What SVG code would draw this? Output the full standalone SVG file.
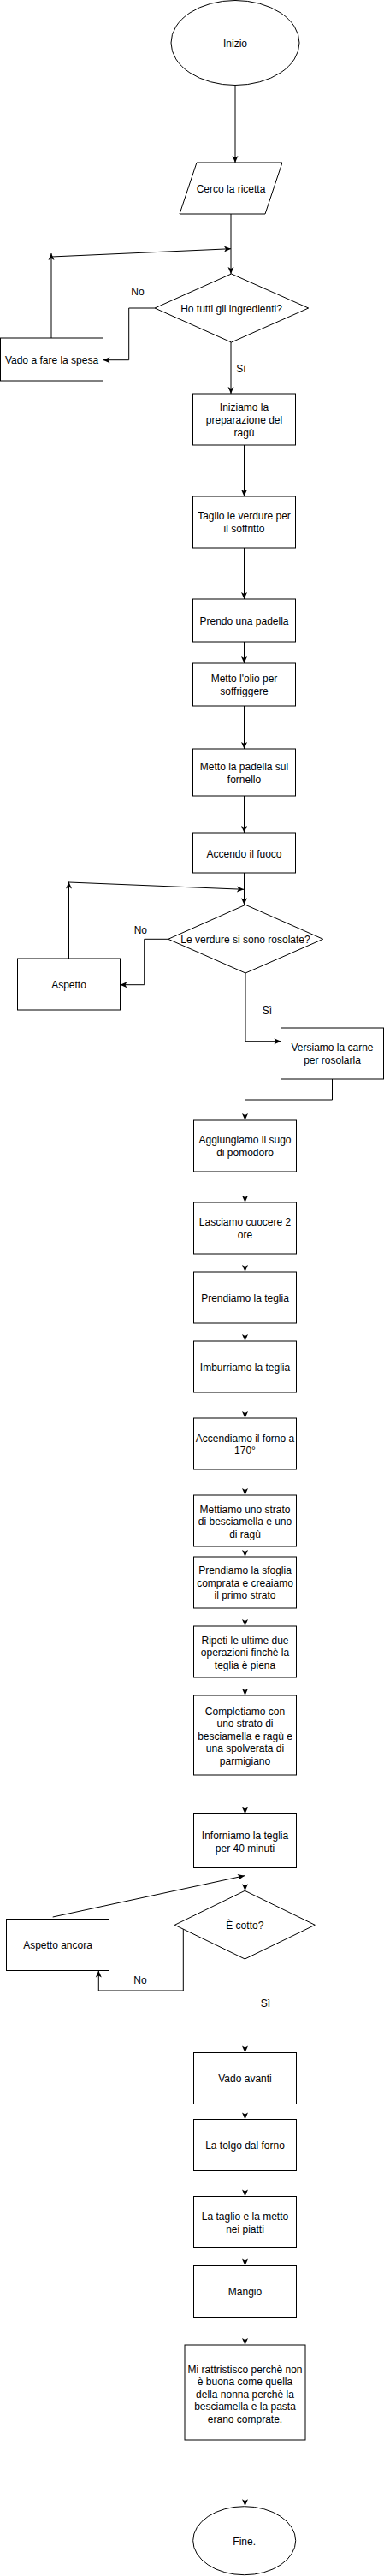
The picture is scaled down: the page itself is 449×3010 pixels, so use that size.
<svg xmlns="http://www.w3.org/2000/svg" width="449" height="3010" viewBox="0 0 449 3010">
<style>
.n{fill:#fff;stroke:#000;stroke-width:1}
.t{font-family:"Liberation Sans",Arial,sans-serif;font-size:12px;fill:#000;text-anchor:middle}
.e{fill:none;stroke:#000;stroke-width:1}
</style>
<defs>
<marker id="arr" markerUnits="userSpaceOnUse" markerWidth="10" markerHeight="10" viewBox="0 0 10 10" refX="9" refY="5" orient="auto"><path d="M1,1.5 L9,5 L1,8.5 L3,5 z" fill="#000"/></marker>
</defs>
<rect width="449" height="3010" fill="#fff"/>
<g id="connectors">
<path class="e" marker-end="url(#arr)" d="M275,100 V190"/>
<path class="e" marker-end="url(#arr)" d="M270,250 V320"/>
<path class="e" marker-end="url(#arr)" d="M60,395 V296"/>
<path class="e" marker-end="url(#arr)" d="M60,300 L270,290.7"/>
<path class="e" marker-end="url(#arr)" d="M181,360 H150.7 V420.7 H120.5"/>
<path class="e" marker-end="url(#arr)" d="M270,400 V460"/>
<path class="e" marker-end="url(#arr)" d="M285.5,520 V580"/>
<path class="e" marker-end="url(#arr)" d="M285.5,640 V700"/>
<path class="e" marker-end="url(#arr)" d="M285.5,750 V775"/>
<path class="e" marker-end="url(#arr)" d="M285.5,825 V875"/>
<path class="e" marker-end="url(#arr)" d="M285.5,930 V973"/>
<path class="e" marker-end="url(#arr)" d="M285.5,1020 V1057.3"/>
<path class="e" marker-end="url(#arr)" d="M80.5,1120 V1030.5"/>
<path class="e" marker-end="url(#arr)" d="M80.5,1031 L285,1039.3"/>
<path class="e" marker-end="url(#arr)" d="M196.7,1097.3 H168.7 V1150.7 H140.5"/>
<path class="e" marker-end="url(#arr)" d="M287,1137 V1216.7 H328.5"/>
<path class="e" marker-end="url(#arr)" d="M388.5,1261 V1285 H286.5 V1309"/>
<path class="e" marker-end="url(#arr)" d="M286.5,1369 V1405"/>
<path class="e" marker-end="url(#arr)" d="M286.5,1465 V1486"/>
<path class="e" marker-end="url(#arr)" d="M286.5,1546 V1567"/>
<path class="e" marker-end="url(#arr)" d="M286.5,1627 V1657"/>
<path class="e" marker-end="url(#arr)" d="M286.5,1717 V1747"/>
<path class="e" marker-end="url(#arr)" d="M286.5,1807 V1819"/>
<path class="e" marker-end="url(#arr)" d="M286.5,1879 V1900"/>
<path class="e" marker-end="url(#arr)" d="M286.5,1960 V1981"/>
<path class="e" marker-end="url(#arr)" d="M286.5,2074 V2119.5"/>
<path class="e" marker-end="url(#arr)" d="M286.5,2182.5 V2209.3"/>
<path class="e" marker-end="url(#arr)" d="M61.7,2240 L286,2191.7"/>
<path class="e" marker-end="url(#arr)" d="M214.3,2253 V2326 H115.3 V2302.5"/>
<path class="e" marker-end="url(#arr)" d="M286.5,2289 V2398.5"/>
<path class="e" marker-end="url(#arr)" d="M286.5,2458.5 V2476.5"/>
<path class="e" marker-end="url(#arr)" d="M286.5,2536.5 V2566.5"/>
<path class="e" marker-end="url(#arr)" d="M286.5,2626.5 V2647.5"/>
<path class="e" marker-end="url(#arr)" d="M286.5,2707.5 V2740"/>
<path class="e" marker-end="url(#arr)" d="M286.5,2851 V2928.3"/>
<text class="t" x="161" y="345">No</text>
<text class="t" x="282" y="434.5">Sì</text>
<text class="t" x="164.3" y="1091">No</text>
<text class="t" x="312.3" y="1184.5">Sì</text>
<text class="t" x="164" y="2317.5">No</text>
<text class="t" x="310.3" y="2344.5">Sì</text>
</g>
<g id="inizio"><ellipse class="n" cx="275" cy="50" rx="75" ry="49.5"/><text class="t" x="275" y="55">Inizio</text></g>
<g id="ricetta"><polygon class="n" points="230,190 330,190 310,250 210,250"/><text class="t" x="270" y="224.5">Cerco la ricetta</text></g>
<g id="ingredienti"><polygon class="n" points="270.5,320 360.7,360 270.5,400 181,360"/><text class="t" x="270.5" y="364.5">Ho tutti gli ingredienti?</text></g>
<g id="spesa"><rect class="n" x="0.5" y="395" width="120" height="50"/><text class="t" x="60.5" y="424.5">Vado a fare la spesa</text></g>
<g id="iniziamo"><rect class="n" x="225.5" y="460" width="120" height="60"/><text class="t" x="285.5" y="480"><tspan x="285.5">Iniziamo la</tspan><tspan x="285.5" dy="15">preparazione del</tspan><tspan x="285.5" dy="15">ragù</tspan></text></g>
<g id="taglio"><rect class="n" x="225.5" y="580" width="120" height="60"/><text class="t" x="285.5" y="607"><tspan x="285.5">Taglio le verdure per</tspan><tspan x="285.5" dy="15">il soffritto</tspan></text></g>
<g id="padella"><rect class="n" x="225.5" y="700" width="120" height="50"/><text class="t" x="285.5" y="729.5">Prendo una padella</text></g>
<g id="olio"><rect class="n" x="225.5" y="775" width="120" height="50"/><text class="t" x="285.5" y="797"><tspan x="285.5">Metto l'olio per</tspan><tspan x="285.5" dy="15">soffriggere</tspan></text></g>
<g id="fornello"><rect class="n" x="225.5" y="875" width="120" height="55"/><text class="t" x="285.5" y="900"><tspan x="285.5">Metto la padella sul</tspan><tspan x="285.5" dy="15">fornello</tspan></text></g>
<g id="fuoco"><rect class="n" x="225.5" y="973" width="120" height="47"/><text class="t" x="285.5" y="1001.5">Accendo il fuoco</text></g>
<g id="rosolate"><polygon class="n" points="287,1057.3 377.7,1097.3 287,1137 196.7,1097.3"/><text class="t" x="287" y="1102">Le verdure si sono rosolate?</text></g>
<g id="aspetto"><rect class="n" x="20.5" y="1120" width="120" height="60"/><text class="t" x="80.5" y="1154.5">Aspetto</text></g>
<g id="carne"><rect class="n" x="328.5" y="1201" width="120" height="60"/><text class="t" x="388.5" y="1227.5"><tspan x="388.5">Versiamo la carne</tspan><tspan x="388.5" dy="15">per rosolarla</tspan></text></g>
<g id="sugo"><rect class="n" x="226.5" y="1309" width="120" height="60"/><text class="t" x="286.5" y="1336"><tspan x="286.5">Aggiungiamo il sugo</tspan><tspan x="286.5" dy="15">di pomodoro</tspan></text></g>
<g id="cuocere"><rect class="n" x="226.5" y="1405" width="120" height="60"/><text class="t" x="286.5" y="1432"><tspan x="286.5">Lasciamo cuocere 2</tspan><tspan x="286.5" dy="15">ore</tspan></text></g>
<g id="teglia"><rect class="n" x="226.5" y="1486" width="120" height="60"/><text class="t" x="286.5" y="1520.5">Prendiamo la teglia</text></g>
<g id="imburriamo"><rect class="n" x="226.5" y="1567" width="120" height="60"/><text class="t" x="286.5" y="1601.5">Imburriamo la teglia</text></g>
<g id="forno"><rect class="n" x="226.5" y="1657" width="120" height="60"/><text class="t" x="286.5" y="1684.5"><tspan x="286.5">Accendiamo il forno a</tspan><tspan x="286.5" dy="14.5">170°</tspan></text></g>
<g id="strato"><rect class="n" x="226.5" y="1747" width="120" height="60"/><text class="t" x="286.5" y="1767.5"><tspan x="286.5">Mettiamo uno strato</tspan><tspan x="286.5" dy="14.5">di besciamella e uno</tspan><tspan x="286.5" dy="14.5">di ragù</tspan></text></g>
<g id="sfoglia"><rect class="n" x="226.5" y="1819" width="120" height="60"/><text class="t" x="286.5" y="1839"><tspan x="286.5">Prendiamo la sfoglia</tspan><tspan x="286.5" dy="14.5">comprata e creaiamo</tspan><tspan x="286.5" dy="14.5">il primo strato</tspan></text></g>
<g id="ripeti"><rect class="n" x="226.5" y="1900" width="120" height="60"/><text class="t" x="286.5" y="1920.5"><tspan x="286.5">Ripeti le ultime due</tspan><tspan x="286.5" dy="14.5">operazioni finchè la</tspan><tspan x="286.5" dy="14.5">teglia è piena</tspan></text></g>
<g id="completiamo"><rect class="n" x="226.5" y="1981" width="120" height="93"/><text class="t" x="286.5" y="2003.5"><tspan x="286.5">Completiamo con</tspan><tspan x="286.5" dy="14.5">uno strato di</tspan><tspan x="286.5" dy="14.5">besciamella e ragù e</tspan><tspan x="286.5" dy="14.5">una spolverata di</tspan><tspan x="286.5" dy="14.5">parmigiano</tspan></text></g>
<g id="inforniamo"><rect class="n" x="226.5" y="2119.5" width="120" height="63"/><text class="t" x="286.5" y="2148.5"><tspan x="286.5">Inforniamo la teglia</tspan><tspan x="286.5" dy="15">per 40 minuti</tspan></text></g>
<g id="cotto"><polygon class="n" points="286.3,2209.3 368.3,2249.3 286.3,2289 204.3,2249.3"/><text class="t" x="286.3" y="2253.5">È cotto?</text></g>
<g id="ancora"><rect class="n" x="7.5" y="2242.5" width="120" height="60"/><text class="t" x="67.5" y="2277">Aspetto ancora</text></g>
<g id="avanti"><rect class="n" x="226.5" y="2398.5" width="120" height="60"/><text class="t" x="286.5" y="2433">Vado avanti</text></g>
<g id="tolgo"><rect class="n" x="226.5" y="2476.5" width="120" height="60"/><text class="t" x="286.5" y="2511">La tolgo dal forno</text></g>
<g id="piatti"><rect class="n" x="226.5" y="2566.5" width="120" height="60"/><text class="t" x="286.5" y="2593.5"><tspan x="286.5">La taglio e la metto</tspan><tspan x="286.5" dy="15">nei piatti</tspan></text></g>
<g id="mangio"><rect class="n" x="226.5" y="2647.5" width="120" height="60"/><text class="t" x="286.5" y="2682">Mangio</text></g>
<g id="rattristisco"><rect class="n" x="216" y="2740" width="141" height="111"/><text class="t" x="286.5" y="2772.5"><tspan x="286.5">Mi rattristisco perchè non</tspan><tspan x="286.5" dy="14.5">è buona come quella</tspan><tspan x="286.5" dy="14.5">della nonna perchè la</tspan><tspan x="286.5" dy="14.5">besciamella e la pasta</tspan><tspan x="286.5" dy="14.5">erano comprate.</tspan></text></g>
<g id="fine"><ellipse class="n" cx="285.7" cy="2968.7" rx="60" ry="40"/><text class="t" x="285.7" y="2974">Fine.</text></g>
</svg>
